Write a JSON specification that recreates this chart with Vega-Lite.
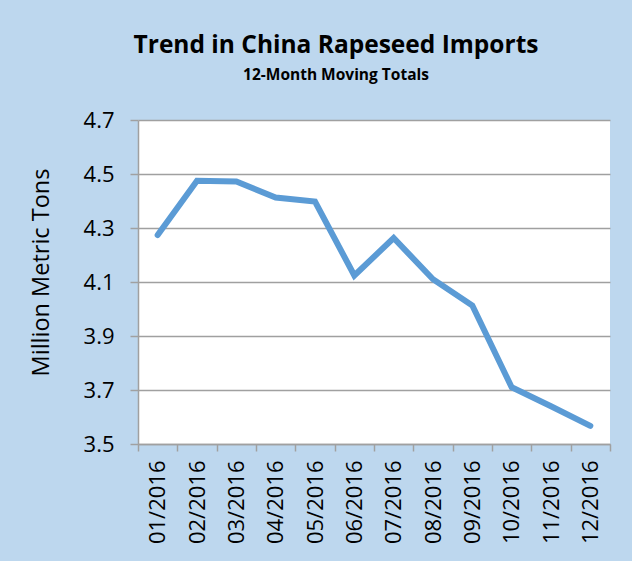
{
  "$schema": "https://vega.github.io/schema/vega-lite/v6.json",
  "width": 472,
  "height": 324,
  "autosize": {"type": "none"},
  "padding": {"left": 138, "top": 120, "right": 22, "bottom": 117},
  "background": "#BDD7EE",
  "title": {
    "text": "Trend in China Rapeseed Imports",
    "subtitle": "12-Month Moving Totals",
    "font": "Open Sans",
    "fontSize": 24.5,
    "fontWeight": "bold",
    "color": "#000000",
    "subtitleFont": "Open Sans",
    "subtitleFontSize": 15.5,
    "subtitleFontWeight": "bold",
    "subtitleColor": "#000000",
    "subtitlePadding": 9,
    "anchor": "middle",
    "dx": -38,
    "offset": 25
  },
  "config": {
    "view": {"fill": "#FFFFFF", "stroke": null},
    "axis": {
      "labelFont": "Open Sans",
      "titleFont": "Open Sans",
      "labelColor": "#000000",
      "titleColor": "#000000",
      "domainColor": "#A0A0A0",
      "tickColor": "#A0A0A0",
      "gridColor": "#A0A0A0",
      "domainWidth": 1.5,
      "tickWidth": 1.5,
      "gridWidth": 1.5
    }
  },
  "data": {
    "values": [
      {"month": "01/2016", "value": 4.274},
      {"month": "02/2016", "value": 4.475},
      {"month": "03/2016", "value": 4.472},
      {"month": "04/2016", "value": 4.413},
      {"month": "05/2016", "value": 4.398},
      {"month": "06/2016", "value": 4.124},
      {"month": "07/2016", "value": 4.263},
      {"month": "08/2016", "value": 4.11},
      {"month": "09/2016", "value": 4.013},
      {"month": "10/2016", "value": 3.71},
      {"month": "11/2016", "value": 3.64},
      {"month": "12/2016", "value": 3.567}
    ]
  },
  "mark": {"type": "line", "color": "#5B9BD5", "strokeWidth": 6, "strokeCap": "round", "strokeJoin": "miter"},
  "encoding": {
    "x": {
      "field": "month",
      "type": "ordinal",
      "scale": {"type": "band", "paddingInner": 0, "paddingOuter": 0},
      "axis": {
        "title": null,
        "labelAngle": -90,
        "labelFontSize": 22,
        "tickBand": "extent",
        "tickSize": 7,
        "labelPadding": 9,
        "grid": false
      }
    },
    "y": {
      "field": "value",
      "type": "quantitative",
      "scale": {"domain": [3.5, 4.7], "nice": false, "zero": false},
      "axis": {
        "title": "Million Metric Tons",
        "titleFontSize": 23.5,
        "titleFontWeight": "normal",
        "titlePadding": 30,
        "titleY": 152,
        "values": [3.5, 3.7, 3.9, 4.1, 4.3, 4.5, 4.7],
        "format": ".1f",
        "labelFontSize": 22,
        "tickSize": 8,
        "labelPadding": 16,
        "grid": true
      }
    }
  }
}
